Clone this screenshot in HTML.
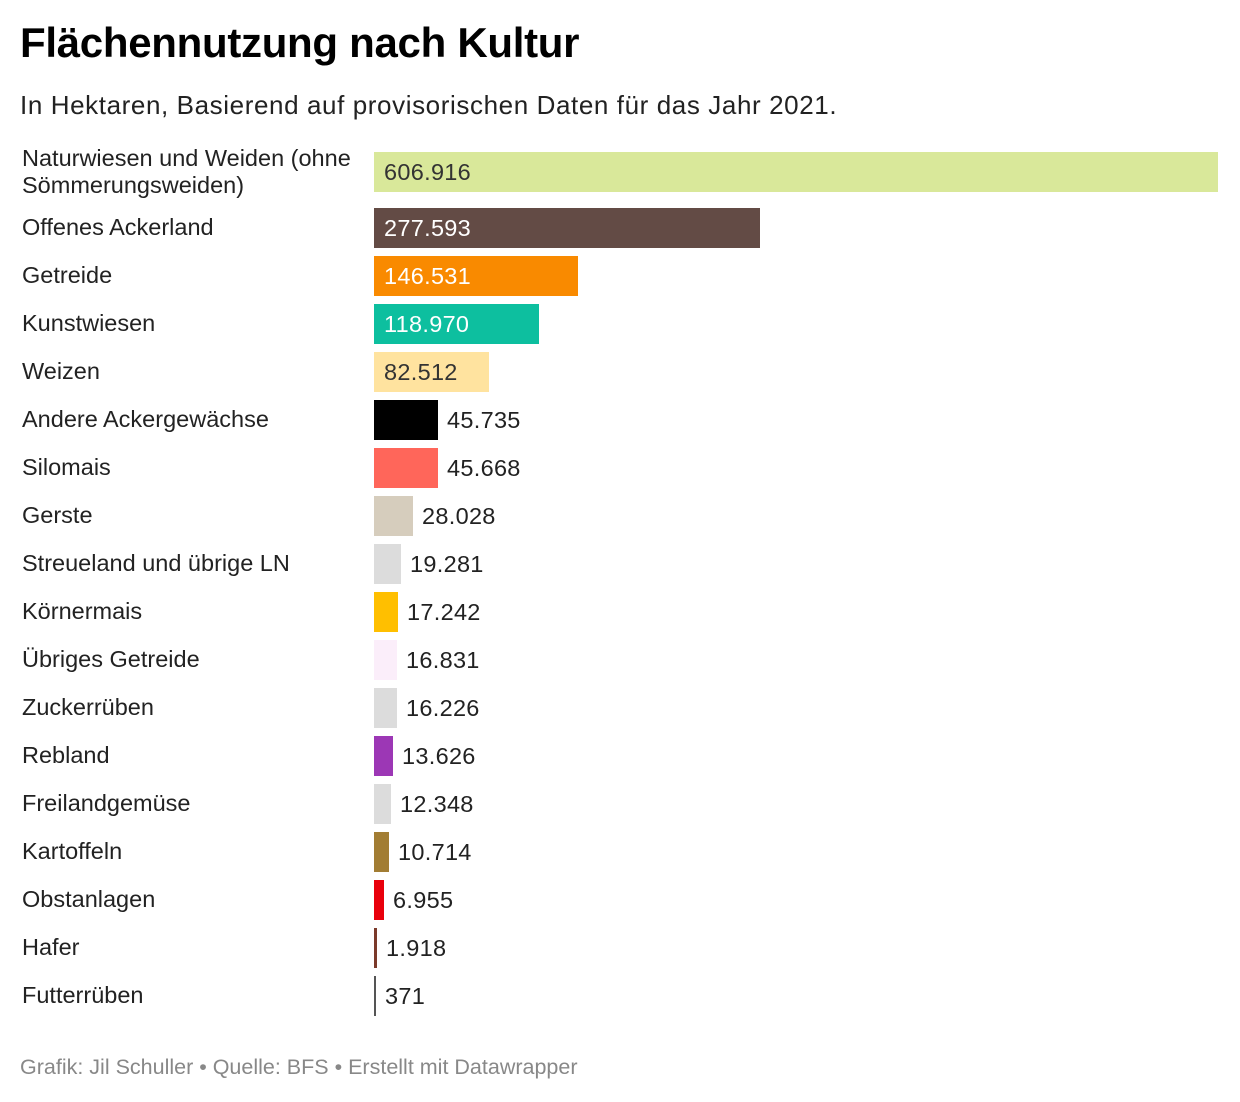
<!DOCTYPE html>
<html><head><meta charset="utf-8"><style>
body{margin:0;width:1240px;height:1102px;background:#fff;font-family:"Liberation Sans",sans-serif;color:#222;position:relative;overflow:hidden}
.t{position:absolute;left:20px;top:19px;font-size:42px;font-weight:bold;color:#000;letter-spacing:-0.3px}
.s{position:absolute;left:20px;top:90px;font-size:26px;letter-spacing:0.6px;color:#222}
.l{position:absolute;left:22px;font-size:23.5px;line-height:27px;color:#222}
.b{position:absolute;left:374px;height:40px}
.v{position:absolute;font-size:23.5px;line-height:40px;height:40px;letter-spacing:0.3px}
.f{position:absolute;left:20px;top:1055px;font-size:21.5px;color:#888}
</style></head><body>
<div class="t">Flächennutzung nach Kultur</div>
<div class="s">In Hektaren, Basierend auf provisorischen Daten für das Jahr 2021.</div>
<div class="l" style="top:145px">Naturwiesen und Weiden (ohne<br>Sömmerungsweiden)</div>
<div class="b" style="top:152px;width:844px;background:#d9e89a"></div><div class="v" style="top:152px;left:384px;color:#333">606.916</div>
<div id="rows"></div>
<div class="f">Grafik: Jil Schuller • Quelle: BFS • Erstellt mit Datawrapper</div>
<script>
var d=[["Offenes Ackerland",277593,"#634b45",1,"#fff"],["Getreide",146531,"#f98a00",1,"#fff"],["Kunstwiesen",118970,"#0dbf9f",1,"#fff"],["Weizen",82512,"#ffe39f",1,"#333"],["Andere Ackergewächse",45735,"#000",0],["Silomais",45668,"#ff665a",0],["Gerste",28028,"#d6cdbd",0],["Streueland und übrige LN",19281,"#dcdcdc",0],["Körnermais",17242,"#ffbf00",0],["Übriges Getreide",16831,"#fbeefa",0],["Zuckerrüben",16226,"#dcdcdc",0],["Rebland",13626,"#9c37b5",0],["Freilandgemüse",12348,"#dcdcdc",0],["Kartoffeln",10714,"#a27d33",0],["Obstanlagen",6955,"#e9000c",0],["Hafer",1918,"#7b3a2a",0],["Futterrüben",371,"#555",0]];
var h="";
d.forEach(function(r,i){var y=(i==0)?208:256+48*(i-1);
var w=Math.max(2,Math.round(r[1]*844/606916));
var s=String(r[1]).replace(/\B(?=(\d{3})+(?!\d))/g,".");
h+='<div class="l" style="top:'+(y+6)+'px">'+r[0]+'</div><div class="b" style="top:'+y+'px;width:'+w+'px;background:'+r[2]+'"></div>';
h+='<div class="v" style="top:'+y+'px;left:'+(r[3]?384:374+w+9)+'px;color:'+(r[3]?r[4]:'#222')+'">'+s+'</div>';});
document.getElementById("rows").innerHTML=h;
</script>
</body></html>
